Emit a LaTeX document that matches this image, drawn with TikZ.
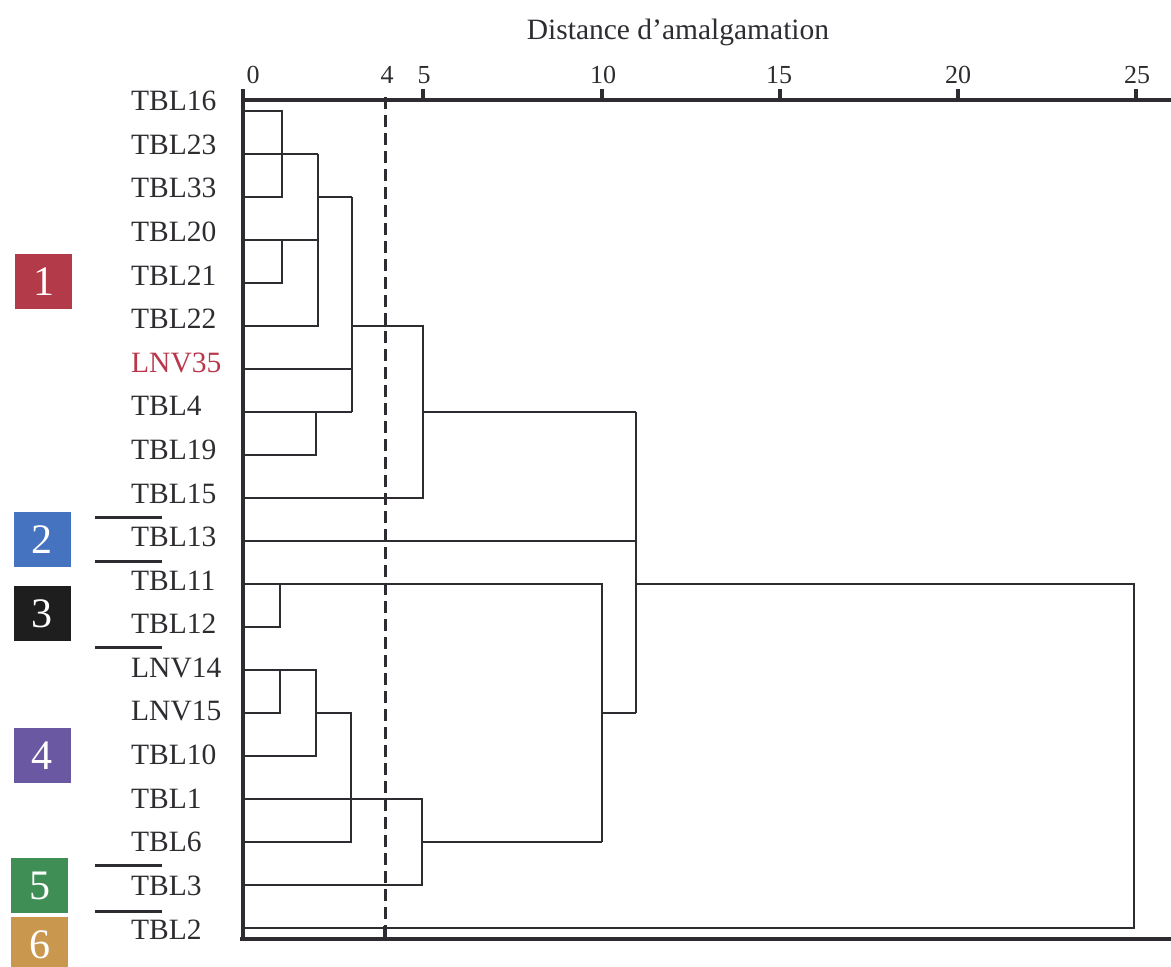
\documentclass[tikz,border=0pt]{standalone}
\usepackage{fontspec}
\setmainfont{Liberation Serif}
\definecolor{ink}{HTML}{2E2C31}
\definecolor{labred}{HTML}{B8374B}
\definecolor{cA}{HTML}{B33A48}
\definecolor{cB}{HTML}{4673C0}
\definecolor{cC}{HTML}{1E1E1E}
\definecolor{cD}{HTML}{6B58A3}
\definecolor{cE}{HTML}{3F8E55}
\definecolor{cF}{HTML}{C9974E}
\begin{document}
\begin{tikzpicture}[x=1pt,y=-1pt,
  lab/.style={anchor=west, inner sep=0pt, text=ink, font=\fontsize{29.5}{30}\selectfont},
  ticklab/.style={anchor=base, inner sep=0pt, text=ink, font=\fontsize{26}{28}\selectfont},
  grp/.style={minimum width=57pt, minimum height=55pt, inner sep=0pt, text=white, font=\fontsize{42}{44}\selectfont},
  link/.style={draw=ink, line width=2.5pt},
  axisline/.style={draw=ink, line width=3.2pt},
  sep/.style={draw=ink, line width=3pt},
  cutline/.style={draw=ink, line width=3pt, dash pattern=on 12pt off 6pt}
]
\useasboundingbox (0,0) rectangle (1171,967);

% title and scale numbers
\node[anchor=base, inner sep=0pt, text=ink, font=\fontsize{29.5}{30}\selectfont] (title) at (678,39) {Distance d’amalgamation};
\node[ticklab] (t0) at (253,83) {0};
\node[ticklab] (t4) at (387,83) {4};
\node[ticklab] (t5) at (424,83) {5};
\node[ticklab] (t10) at (603,83) {10};
\node[ticklab] (t15) at (779,83) {15};
\node[ticklab] (t20) at (958,83) {20};
\node[ticklab] (t25) at (1137,83) {25};

% leaf positions
\foreach \i in {0,...,19} \coordinate (L\i) at (244,{111+43*\i});

% merge levels
\coordinate (dA) at (282,0);
\coordinate (dB) at (318,0);
\coordinate (dC) at (352,0);
\coordinate (dD) at (423,0);
\coordinate (dE) at (636,0);
\coordinate (da) at (280,0);
\coordinate (db) at (316,0);
\coordinate (dc) at (351,0);
\coordinate (dd) at (422,0);
\coordinate (de) at (602,0);
\coordinate (dF) at (1134,0);

% leaf labels
\foreach \i/\t in {0/TBL16,1/TBL23,2/TBL33,3/TBL20,4/TBL21,5/TBL22,7/TBL4,8/TBL19,9/TBL15,10/TBL13,11/TBL11,12/TBL12,13/LNV14,14/LNV15,15/TBL10,16/TBL1,17/TBL6,18/TBL3,19/TBL2}
  \node[lab] (n\i) at (131,{101+43.6*\i}) {\t};
\node[lab, text=labred] (n6) at (131,{101+43.6*6}) {LNV35};

% upper branch
\draw[link] (L0) -| (L2 -| dA) -- (L2);
\draw[link] (L1) -- (L1 -| dB);
\draw[link] (L3) -- (L3 -| dB);
\draw[link] (L3 -| dA) -- (L4 -| dA) -- (L4);
\draw[link] (L1 -| dB) -- (L5 -| dB) -- (L5);
\draw[link] (L2 -| dB) -- (L2 -| dC);
\draw[link] (L6) -- (L6 -| dC);
\draw[link] (L7) -- (L7 -| dC);
\draw[link] (L7 -| db) -- (L8 -| db) -- (L8);
\draw[link] (L2 -| dC) -- (L7 -| dC);
\draw[link] (L5 -| dC) -- (L5 -| dD) -- (L9 -| dD) -- (L9);
\draw[link] (L7 -| dD) -- (L7 -| dE);
\draw[link] (L10) -- (L10 -| dE);
\draw[link] (L7 -| dE) -- (L14 -| dE);
\draw[link] (L11 -| dE) -- (L11 -| dF) -- (L19 -| dF) -- (L19);

% lower branch
\draw[link] (L11) -- (L11 -| de) -- (L17 -| de);
\draw[link] (L11 -| da) -- (L12 -| da) -- (L12);
\draw[link] (L13) -- (L13 -| db) -- (L15 -| db) -- (L15);
\draw[link] (L13 -| da) -- (L14 -| da) -- (L14);
\draw[link] (L14 -| db) -- (L14 -| dc) -- (L17 -| dc) -- (L17);
\draw[link] (L16) -- (L16 -| dd) -- (L18 -| dd) -- (L18);
\draw[link] (L17 -| dd) -- (L17 -| de);
\draw[link] (L14 -| de) -- (L14 -| dE);

% frame and scale
\draw[axisline] (243,89) -- (243,939);
\draw[axisline] (243,100) -- (1171,100);
\draw[axisline] (240,939) -- (1171,939);
\foreach \x in {423,602,780,958,1136} \draw[axisline] (\x,89) -- (\x,100);

% cut level
\draw[cutline] (385,97) -- (385,928);
\draw[axisline] (385,926) -- (385,939);

% group separators
\foreach \y in {517,561,647,865,911} \draw[sep] (95,\y) -- (162,\y);

% group tags
\node[grp, fill=cA] (grp1) at (43.5,281.5) {1};
\node[grp, fill=cB] (grp2) at (42,539.5) {2};
\node[grp, fill=cC] (grp3) at (42,613.5) {3};
\node[grp, fill=cD] (grp4) at (42,755.5) {4};
\node[grp, fill=cE] (grp5) at (39.5,885.5) {5};
\node[grp, fill=cF] (grp6) at (39.5,944.5) {6};
\end{tikzpicture}
\end{document}
